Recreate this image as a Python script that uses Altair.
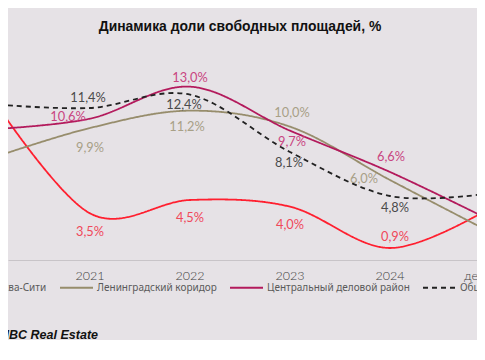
import altair as alt
import pandas as pd

# ---- data ----
periods = ["2020", "2021", "2022", "2023", "2024", "дек.2025"]
series = ["Москва-Сити", "Ленинградский коридор", "Центральный деловой район", "Общая"]
moscow_city = [12.4, 3.5, 4.5, 4.0, 0.9, 3.9]
leningrad = [7.6, 9.9, 11.2, 10.0, 6.0, 2.1]
cbd = [9.8, 10.6, 13.0, 9.7, 6.6, 3.0]
total = [11.7, 11.4, 12.4, 8.1, 4.8, 5.0]
title_text = "Динамика доли свободных площадей, %"
source_text = "Мониторинг IBC Real Estate"

values = [moscow_city, leningrad, cbd, total]

# ---- layout / style ----
# label offsets in pixels (dx, dy) per series, per period
label_offsets = [
    [(0, -12), (0, 19), (0, 18), (0, 18), (5, -11), (30, -12)],
    [(0, 18), (0, 20), (-3, 16), (2, -14), (-26, -1), (30, 12)],
    [(0, 13), (-22, -2), (0, -9), (2, 11), (1, -15), (30, -12)],
    [(0, -12), (-2, -10), (-6, 10), (-1, 11), (5, 12), (30, 12)],
]
line_colors = ["#ff1f2f", "#978d6c", "#b31a5c", "#222222"]
label_colors = ["#f0485a", "#a8a086", "#c94581", "#4a4a4a"]
bg = "#e6e2e6"
W, H = 469, 200
Y_MAX = 15
X0 = 0.18
X_DOMAIN = [X0, X0 + W / 100]
px_per_x = 100
px_per_y = H / Y_MAX

rows = []
for si, s in enumerate(series):
    for pi, p in enumerate(periods):
        v = values[si][pi]
        dx, dy = label_offsets[si][pi]
        rows.append({
            "series": s, "idx": pi, "period": p, "value": v,
            "label": f"{v:.1f}".replace(".", ",") + "%",
            "lx": pi + dx / px_per_x,
            "ly": v - dy / px_per_y,
        })
df = pd.DataFrame(rows)
ticks_df = pd.DataFrame({"idx": list(range(len(periods))), "period": periods})

x_scale = alt.Scale(domain=X_DOMAIN, nice=False, zero=False)
y_scale = alt.Scale(domain=[0, Y_MAX], nice=False)

x_axis = alt.Axis(title=None, ticks=False, labels=False, domain=True,
                  domainColor="#c8c4c8", domainWidth=1, grid=False)

legend = alt.Legend(
    title=None, orient="none", legendX=-63, legendY=210, direction="horizontal",
    symbolType="stroke", symbolSize=1089, symbolStrokeWidth=2,
    symbolOffset=0, labelOffset=3,
    labelFont="Noto Sans", labelFontSize=10, labelColor="#5a5a5a",
    columnPadding=9,
)

lines = alt.Chart(df).mark_line(interpolate="cardinal", strokeWidth=1.8).encode(
    x=alt.X("idx:Q", scale=x_scale, axis=x_axis),
    y=alt.Y("value:Q", scale=y_scale, axis=None),
    color=alt.Color("series:N", scale=alt.Scale(domain=series, range=line_colors), legend=legend),
    strokeDash=alt.StrokeDash("series:N",
                              scale=alt.Scale(domain=series, range=[[1, 0], [1, 0], [1, 0], [5, 4]]),
                              legend=legend),
    order="idx:Q",
)

labels = alt.Chart(df).mark_text(font="Lato", fontSize=12.8, baseline="middle", align="center").encode(
    x=alt.X("lx:Q", scale=x_scale, axis=x_axis),
    y=alt.Y("ly:Q", scale=y_scale, axis=None),
    text="label:N",
    fill=alt.Fill("series:N", scale=alt.Scale(domain=series, range=label_colors), legend=None),
)

tick_labels = alt.Chart(ticks_df).mark_text(
    font="Lato", fontSize=12.5, fontWeight=300, baseline="middle", align="center", color="#404040",
).encode(
    x=alt.X("idx:Q", scale=x_scale, axis=x_axis),
    y=alt.value(H + 16),
    text="period:N",
)

source = alt.Chart(pd.DataFrame({"t": [source_text]})).mark_text(
    align="right", baseline="middle", font="Liberation Sans", fontSize=12.5,
    fontWeight="bold", fontStyle="italic", color="#111111",
).encode(x=alt.value(90), y=alt.value(275), text="t:N")

chart = alt.layer(lines, labels, tick_labels, source).properties(
    width=W, height=H,
    title=alt.TitleParams(title_text, font="Liberation Sans", fontSize=13.9, fontWeight="bold",
                          color="#111111", anchor="middle", offset=26, dx=-2.5),
    padding={"left": 0, "top": 52, "right": 0, "bottom": 80},
    autosize=alt.AutoSizeParams(type="none"),
    background=bg,
).configure_view(stroke=None)

chart.save("out.html", embed_options={"renderer": "svg", "actions": False})
